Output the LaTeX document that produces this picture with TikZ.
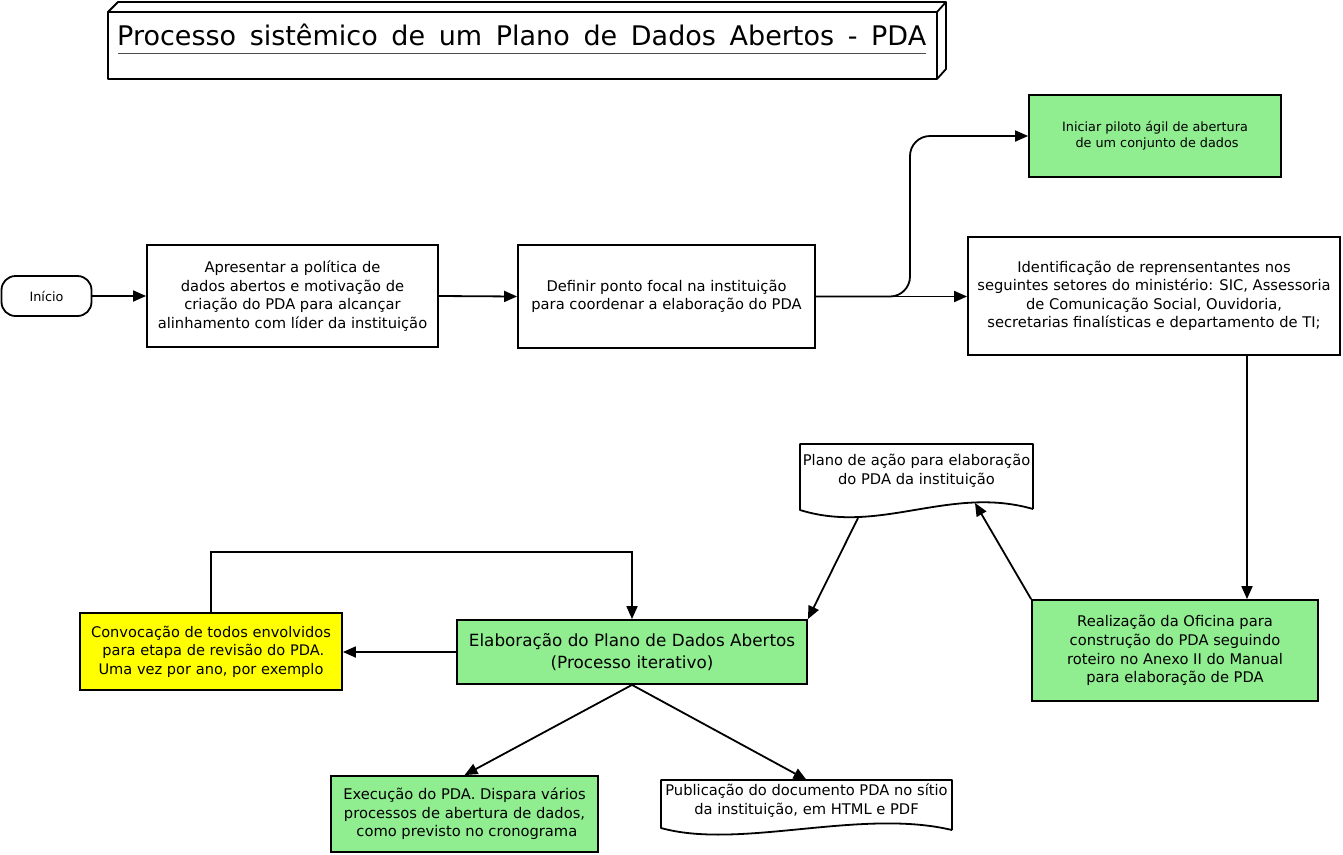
\documentclass[tikz,border=0pt]{standalone}
\usepackage{fontspec}
\setmainfont{DejaVu Sans}
\usetikzlibrary{arrows.meta}
\definecolor{lgreen}{HTML}{90EE90}
\definecolor{yel}{HTML}{FFFF00}
\tikzset{
  box/.style={draw, line width=1.8pt, align=center, inner sep=0pt, font=\fontsize{14.7}{18.4}\selectfont},
  smallbox/.style={box, font=\fontsize{12.8}{16}\selectfont},
  txt/.style={align=center, inner sep=0pt, font=\fontsize{14.7}{19}\selectfont},
  arr/.style={line width=1.8pt, -{Triangle[length=13pt,width=11pt]}},
  outl/.style={line width=1.8pt},
}
\begin{document}
\begin{tikzpicture}[x=1pt,y=-1pt]
\path[use as bounding box] (0,0) rectangle (1343,854);
% title 3D box
\draw[outl, line join=round] (108,12) rectangle (937,79);
\draw[outl, line join=round] (108,12) -- (118,2) -- (946,2) -- (946,69) -- (937,79);
\draw[outl] (937,12) -- (946,2);
\node[anchor=base west, inner sep=0pt, font=\fontsize{27}{30}\selectfont] (title) at (117,45) {\makebox[809pt][s]{Processo sistêmico de um Plano de Dados Abertos - PDA}};
\draw[line width=1pt, black!70] (118,53.3) -- (926,53.3);

\node[smallbox, rounded corners=14pt, minimum width=90, minimum height=40] (ini) at (46.5,296) {Início};
\node[box, minimum width=291, minimum height=102] (apr) at (292.5,296) {Apresentar a política de\\dados abertos e motivação de\\criação do PDA para alcançar\\alinhamento com líder da instituição};
\node[box, minimum width=297, minimum height=103] (def) at (666.5,296.5) {Definir ponto focal na instituição\\para coordenar a elaboração do PDA};
\node[smallbox, fill=lgreen, minimum width=252, minimum height=82] (pil) at (1155,136) {Iniciar piloto ágil de abertura\\\ de um conjunto de dados};
\node[box, minimum width=372, minimum height=118] (ide) at (1154,296) {Identificação de reprensentantes nos\\seguintes setores do ministério: SIC, Assessoria\\de Comunicação Social, Ouvidoria,\\secretarias finalísticas e departamento de TI;};
\node[box, fill=lgreen, minimum width=286, minimum height=101, font=\fontsize{14.7}{18.7}\selectfont] (rea) at (1175,650.5) {Realização da Oficina para\\construção do PDA seguindo\\roteiro no Anexo II do Manual\\para elaboração de PDA};

% Plano de acao (document)
\draw[outl, line join=round] (1033,509) -- (1033,444) -- (800,444) -- (800,510) .. controls (880,535) and (950,485) .. (1033,509);
\node[txt, minimum width=233, minimum height=54] (pla) at (916.5,471) {Plano de ação para elaboração\\do PDA da instituição};
\coordinate (plaL) at (858,518);
\coordinate (plaR) at (975,503);

\node[box, fill=lgreen, minimum width=350, minimum height=64, font=\fontsize{16.8}{22}\selectfont] (ela) at (632,652) {Elaboração do Plano de Dados Abertos\\(Processo iterativo)};
\node[box, fill=yel, minimum width=262, minimum height=77, font=\fontsize{14.6}{18.5}\selectfont] (con) at (211,651.5) {Convocação de todos envolvidos\\\ para etapa de revisão do PDA.\\Uma vez por ano, por exemplo};
\node[box, fill=lgreen, minimum width=267, minimum height=76] (exe) at (464.5,814) {Execução do PDA. Dispara vários\\processos de abertura de dados,\\\ como previsto no cronograma};

% Publicacao (document)
\draw[outl, line join=round] (952,830) -- (952,780) -- (661,780) -- (661,828) .. controls (740,850) and (860,808) .. (952,830);
\node[txt, minimum width=291, minimum height=42] (pub) at (806.5,801) {Publicação do documento PDA no sítio\\da instituição, em HTML e PDF};

% connectors
\draw[arr] (ini.east) -- (apr.west);
\draw[arr] (apr.east) -- (def.west);
\draw[arr] (def.east) -- (ide.west |- def.east);
\draw[arr, rounded corners=20pt] (def.east) -| (910,136) -- (pil.west);
\draw[arr] (ide.south -| 1247,0) -- (rea.north -| 1247,0);
\draw[arr] (rea.north west) -- (plaR);
\draw[arr] (plaL) -- (ela.north east);
\draw[arr] (ela.west) -- (con.east |- ela.west);
\draw[arr] (con.north) -- ++(0,-60) -| (ela.north);
\draw[arr] (ela.south) -- (exe.north);
\draw[arr] (ela.south) -- (pub.north);
\end{tikzpicture}
\end{document}
